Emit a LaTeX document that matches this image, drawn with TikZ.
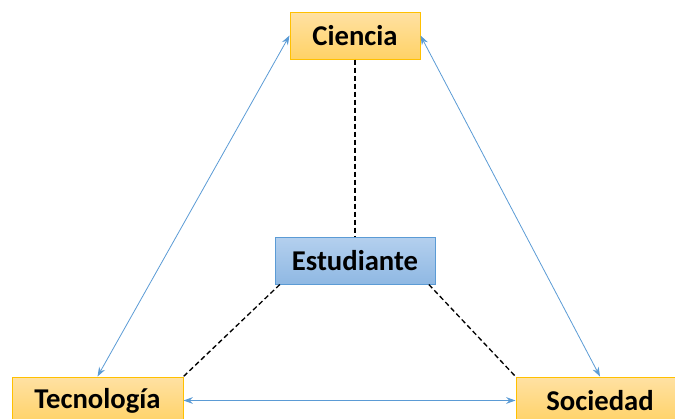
\documentclass[tikz,border=0pt]{standalone}
\usepackage{fontspec}
\setmainfont{Carlito}
\usetikzlibrary{arrows.meta}
\definecolor{naranjaborde}{HTML}{FFC000}
\definecolor{naranjaclaro}{HTML}{FFE1A3}
\definecolor{naranjaoscuro}{HTML}{FFD266}
\definecolor{azulborde}{HTML}{5B9BD5}
\definecolor{azulclaro}{HTML}{B4D0EE}
\definecolor{azuloscuro}{HTML}{8FB8E3}
\definecolor{flecha}{HTML}{5B9BD5}

\tikzset{
  concepto/.style={draw=naranjaborde,line width=0.75pt,top color=naranjaclaro,bottom color=naranjaoscuro,
    minimum height=35.25pt,inner sep=0pt,font=\fontsize{21.5}{25}\selectfont\bfseries},
  alumno/.style={concepto,draw=azulborde,top color=azulclaro,bottom color=azuloscuro},
  enlace/.style={draw=flecha,line width=0.6pt,{Stealth[length=7pt,width=5pt]}-{Stealth[length=7pt,width=5pt]}},
  vinculo/.style={draw=black,line width=1pt,dash pattern=on 3.75pt off 2.25pt}
}

\begin{document}
\begin{tikzpicture}[x=0.75pt,y=-0.75pt]
\useasboundingbox (0,0) rectangle (675,418);
\clip (0,0) rectangle (675,418);

\node[concepto,minimum width=97.5pt] (ciencia) at (355,35.5) {Ciencia};
\node[alumno,minimum width=120pt] (estudiante) at (355,260.5) {Estudiante};
\node[concepto,minimum width=128.25pt] (tecnologia) at (97.5,400.5) {Tecnología};
\node[concepto,minimum width=126pt] (sociedad) at (600,400.5) {Sociedad};

% relaciones entre los tres ejes
\draw[enlace] (ciencia.west) -- (tecnologia.north);
\draw[enlace] (ciencia.east) -- (sociedad.north);
\draw[enlace] (tecnologia.east) -- (sociedad.west);

% el estudiante en el centro
\draw[vinculo] (ciencia.south) -- (estudiante.north);
\draw[vinculo] ([xshift=4pt]estudiante.south west) -- (tecnologia.north east);
\draw[vinculo] ([xshift=-5pt]estudiante.south east) -- (sociedad.north west);
\end{tikzpicture}
\end{document}
